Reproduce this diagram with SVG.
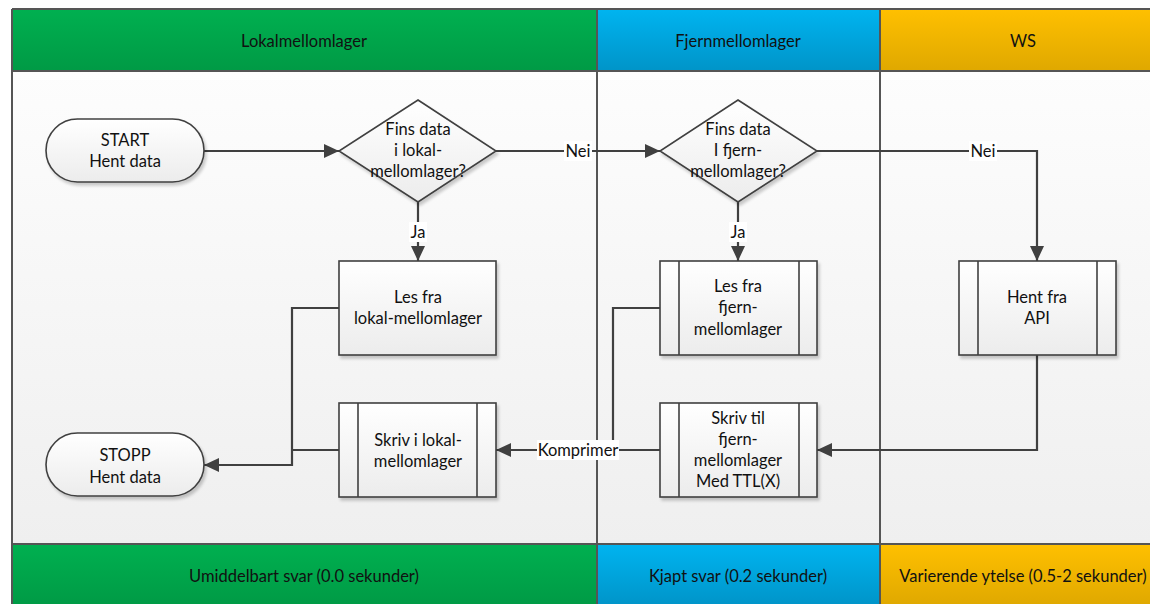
<svg xmlns="http://www.w3.org/2000/svg" width="1150" height="604" viewBox="0 0 1150 604">
<style>
text{font-family:Lato,"Liberation Sans",sans-serif;font-size:16.5px;fill:#111;text-anchor:middle}
.node{fill:url(#nodeGrad);stroke:#404040;stroke-width:1.6;filter:url(#sh)}
.bar{stroke:#404040;stroke-width:1.6}
.conn{fill:none;stroke:#404040;stroke-width:2.2}
.lbl{fill:#fff}
.lane{stroke:#555;stroke-width:2}
</style>
<defs>
<linearGradient id="gG" x1="0" y1="0" x2="0" y2="1"><stop offset="0" stop-color="#00b050"/><stop offset="1" stop-color="#009a45"/></linearGradient>
<linearGradient id="gB" x1="0" y1="0" x2="0" y2="1"><stop offset="0" stop-color="#00b4f0"/><stop offset="1" stop-color="#0094c8"/></linearGradient>
<linearGradient id="gO" x1="0" y1="0" x2="0" y2="1"><stop offset="0" stop-color="#ffc000"/><stop offset="1" stop-color="#dfa800"/></linearGradient>
<linearGradient id="bodyGrad" x1="0" y1="0" x2="0" y2="1"><stop offset="0" stop-color="#fdfdfd"/><stop offset="1" stop-color="#efefef"/></linearGradient>
<linearGradient id="nodeGrad" x1="0" y1="0" x2="0" y2="1"><stop offset="0" stop-color="#ffffff"/><stop offset="1" stop-color="#ececec"/></linearGradient>
<filter id="sh" x="-10%" y="-10%" width="125%" height="130%"><feGaussianBlur in="SourceAlpha" stdDeviation="1.5"/><feOffset dx="2" dy="3"/><feComponentTransfer><feFuncA type="linear" slope="0.2"/></feComponentTransfer><feMerge><feMergeNode/><feMergeNode in="SourceGraphic"/></feMerge></filter>
<marker id="arr" markerUnits="userSpaceOnUse" markerWidth="16" markerHeight="14" refX="15" refY="7" orient="auto"><path d="M0,0 L15,7 L0,14 z" fill="#404040"/></marker>
</defs>

<g id="lanes">
<rect x="12" y="71" width="1160" height="473" fill="url(#bodyGrad)"/>
<rect x="12" y="9" width="585" height="62" fill="url(#gG)"/>
<rect x="597" y="9" width="283" height="62" fill="url(#gB)"/>
<rect x="880" y="9" width="290" height="62" fill="url(#gO)"/>
<rect x="12" y="544" width="585" height="62" fill="url(#gG)"/>
<rect x="597" y="544" width="283" height="62" fill="url(#gB)"/>
<rect x="880" y="544" width="290" height="62" fill="url(#gO)"/>
<path class="lane" d="M12,9 H1170 M12,71 H1170 M12,544 H1170 M12,9 V606 M597,9 V606 M880,9 V606"/>
<text x="304" y="47">Lokalmellomlager</text>
<text x="738" y="47">Fjernmellomlager</text>
<text x="1023" y="47">WS</text>
<text x="304" y="582">Umiddelbart svar (0.0 sekunder)</text>
<text x="738" y="582">Kjapt svar (0.2 sekunder)</text>
<text x="1023" y="582">Varierende ytelse (0.5-2 sekunder)</text>
</g>

<g id="connectors">
<path class="conn" d="M204,151 H339" marker-end="url(#arr)"/>
<path class="conn" d="M496,151 H660" marker-end="url(#arr)"/>
<path class="conn" d="M817,151 H1037 V261" marker-end="url(#arr)"/>
<path class="conn" d="M418,202 V261" marker-end="url(#arr)"/>
<path class="conn" d="M738,202 V261" marker-end="url(#arr)"/>
<path class="conn" d="M339,308 H292 V465 H204" marker-end="url(#arr)"/>
<path class="conn" d="M339,450 H292"/>
<path class="conn" d="M660,308 H613 V450"/>
<path class="conn" d="M660,450 H496" marker-end="url(#arr)"/>
<path class="conn" d="M1037,355 V450 H817" marker-end="url(#arr)"/>
<rect class="lbl" x="564" y="141" width="28" height="20"/>
<text x="578" y="157">Nei</text>
<rect class="lbl" x="969" y="141" width="28" height="20"/>
<text x="983" y="157">Nei</text>
<rect class="lbl" x="409" y="222" width="18" height="20"/>
<text x="418" y="238">Ja</text>
<rect class="lbl" x="729" y="222" width="18" height="20"/>
<text x="738" y="238">Ja</text>
<rect class="lbl" x="537" y="440" width="82" height="20"/>
<text x="578" y="456">Komprimer</text>
</g>

<g id="start">
<rect class="node" x="46" y="119" width="158" height="63" rx="31.5"/>
<text x="125" y="146">START</text>
<text x="125" y="167">Hent data</text>
</g>
<g id="stopp">
<rect class="node" x="46" y="433" width="158" height="63" rx="31.5"/>
<text x="125" y="461">STOPP</text>
<text x="125" y="483">Hent data</text>
</g>
<g id="dec-lokal">
<polygon class="node" points="418,100 496,151 418,202 339,151"/>
<text x="418" y="135">Fins data</text>
<text x="418" y="156">i lokal-</text>
<text x="418" y="177">mellomlager?</text>
</g>
<g id="dec-fjern">
<polygon class="node" points="738,100 817,151 738,202 660,151"/>
<text x="738" y="135">Fins data</text>
<text x="738" y="156">I fjern-</text>
<text x="738" y="177">mellomlager?</text>
</g>
<g id="les-lokal">
<rect class="node" x="339" y="261" width="157" height="94"/>
<text x="418" y="303">Les fra</text>
<text x="418" y="324">lokal-mellomlager</text>
</g>
<g id="les-fjern">
<rect class="node" x="660" y="261" width="157" height="94"/>
<path class="bar" d="M679,261 V355 M799,261 V355"/>
<text x="738" y="292">Les fra</text>
<text x="738" y="313">fjern-</text>
<text x="738" y="335">mellomlager</text>
</g>
<g id="hent-api">
<rect class="node" x="959" y="261" width="157" height="94"/>
<path class="bar" d="M978,261 V355 M1097,261 V355"/>
<text x="1037" y="303">Hent fra</text>
<text x="1037" y="324">API</text>
</g>
<g id="skriv-lokal">
<rect class="node" x="339" y="403" width="157" height="94"/>
<path class="bar" d="M358,403 V497 M477,403 V497"/>
<text x="418" y="446">Skriv i lokal-</text>
<text x="418" y="467">mellomlager</text>
</g>
<g id="skriv-fjern">
<rect class="node" x="660" y="403" width="157" height="94"/>
<path class="bar" d="M679,403 V497 M799,403 V497"/>
<text x="738" y="424">Skriv til</text>
<text x="738" y="445">fjern-</text>
<text x="738" y="466">mellomlager</text>
<text x="738" y="487">Med TTL(X)</text>
</g>
</svg>
